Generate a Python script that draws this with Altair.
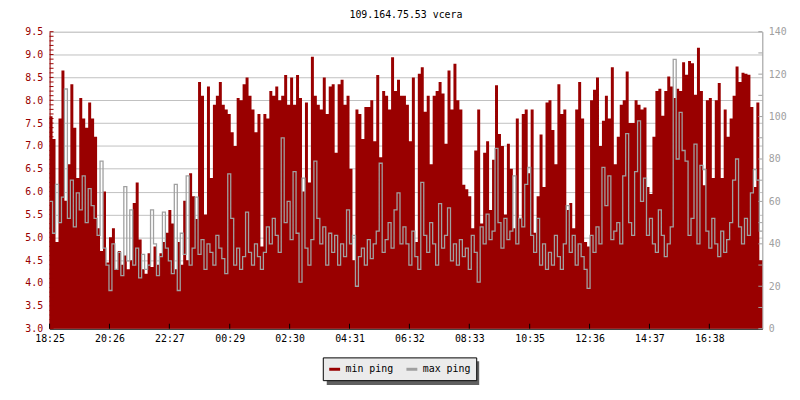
import altair as alt
import pandas as pd

# ---------------- data ----------------
# min ping (left axis, ms) - one value every 6 minutes, 240 samples over 24 h
min_ping = [
    7.65, 7.15, 4.9, 7.6, 8.65, 5.8, 6.6, 8.35, 7.4, 6.3, 8.05, 7.6, 7.4, 7.95, 7.6, 7.2, 5.2, 4.7, 6.0, 4.45,
    5.0, 5.2, 4.3, 4.7, 4.4, 4.6, 4.3, 4.5, 5.75, 6.2, 4.95, 4.3, 4.2, 4.65, 4.35, 4.8, 4.4, 4.65, 4.9, 5.1,
    5.6, 5.3, 4.3, 4.9, 4.4, 5.8, 4.5, 6.4, 5.9, 5.4, 8.4, 8.1, 5.5, 8.3, 6.3, 7.9, 8.1, 8.4, 7.9, 7.8,
    7.7, 7.3, 7.0, 8.05, 8.0, 8.35, 8.5, 8.1, 7.8, 7.3, 7.7, 4.8, 7.7, 7.6, 8.2, 8.1, 8.3, 8.0, 8.1, 8.55,
    7.9, 8.5, 7.9, 8.55, 8.05, 6.0, 7.95, 6.2, 8.95, 8.1, 7.9, 7.8, 8.5, 7.7, 8.3, 8.35, 6.85, 8.35, 8.45, 7.9,
    8.1, 6.5, 4.5, 7.8, 7.7, 7.15, 7.85, 7.85, 8.0, 7.1, 8.55, 6.75, 8.2, 8.1, 7.8, 8.94, 8.2, 8.45, 8.1, 8.1,
    7.9, 7.1, 8.5, 4.9, 8.58, 8.72, 7.75, 8.1, 6.6, 8.1, 8.2, 8.4, 8.15, 7.05, 8.65, 7.8, 8.8, 8.0, 7.8, 6.15,
    6.05, 5.9, 5.2, 6.9, 7.8, 5.3, 6.85, 7.1, 5.6, 6.7, 8.33, 7.26, 7.0, 5.5, 7.05, 6.5, 5.2, 7.6, 5.4, 7.7,
    7.8, 6.4, 7.8, 5.1, 5.9, 7.25, 6.1, 7.95, 8.0, 7.35, 6.6, 8.35, 7.7, 7.8, 5.6, 5.75, 5.2, 7.8, 8.4, 7.6,
    4.9, 4.8, 8.0, 8.23, 8.5, 7.0, 7.55, 8.1, 7.6, 8.72, 6.6, 7.2, 7.9, 8.0, 8.63, 7.5, 7.5, 8.0, 7.9, 7.8,
    7.84, 6.1, 5.95, 7.2, 8.2, 8.25, 7.66, 8.2, 8.52, 8.3, 8.05, 8.25, 8.2, 8.83, 8.56, 8.86, 8.81, 8.12, 9.15, 8.2,
    6.14, 8.0, 8.05, 6.3, 8.0, 8.38, 6.3, 7.8, 7.2, 7.6, 8.1, 8.74, 8.4, 8.6, 8.58, 8.56, 7.85, 6.1, 7.95, 4.5,
]

# max ping (right axis, ms)
max_ping = [
    60, 45, 68, 50, 62, 113, 52, 70, 48, 64, 56, 72, 50, 66, 58, 52, 44, 79, 38, 30,
    18, 40, 28, 36, 25, 67, 32, 56, 30, 38, 24, 35, 28, 30, 56, 40, 25, 34, 55, 38,
    32, 26, 68, 18, 45, 35, 72, 30, 38, 62, 35, 42, 28, 40, 36, 30, 44, 38, 33, 26,
    73, 52, 30, 38, 28, 34, 55, 36, 30, 40, 34, 28, 36, 48, 40, 52, 44, 36, 90, 50,
    60, 42, 74, 45, 22, 71, 38, 30, 42, 79, 52, 40, 48, 30, 45, 36, 44, 30, 40, 34,
    56, 40, 44, 20, 34, 38, 30, 42, 33, 40, 46, 78, 36, 42, 50, 38, 56, 64, 40, 48,
    40, 30, 46, 34, 28, 69, 44, 36, 50, 40, 30, 59, 38, 44, 57, 32, 40, 30, 42, 34,
    38, 28, 44, 36, 22, 48, 40, 54, 42, 46, 85, 50, 38, 52, 42, 46, 72, 40, 52, 48,
    68, 76, 44, 36, 52, 30, 40, 28, 36, 30, 44, 34, 28, 40, 58, 36, 44, 30, 40, 34,
    28, 19, 44, 36, 48, 40, 76, 58, 72, 42, 46, 50, 40, 72, 92, 50, 44, 74, 98, 60,
    71, 44, 52, 40, 36, 56, 44, 34, 40, 48, 127, 80, 102, 84, 79, 44, 52, 87, 40, 77,
    75, 46, 38, 52, 40, 34, 46, 36, 42, 50, 70, 80, 48, 40, 52, 44, 64, 75, 70, 46,
]

sample_minutes = 6          # one sample every 6 minutes
span_minutes = 1440         # 24 hours shown

tick_minutes = [0, 121, 242, 364, 485, 606, 727, 848, 970, 1091, 1212, 1333]
tick_labels = ["18:25", "20:26", "22:27", "00:29", "02:30", "04:31",
               "06:32", "08:33", "10:35", "12:36", "14:37", "16:38"]

left_labels = [3.0, 3.5, 4.0, 4.5, 5.0, 5.5, 6.0, 6.5, 7.0, 7.5, 8.0, 8.5, 9.0, 9.5]
right_labels = [0, 20, 40, 60, 80, 100, 120, 140]
series_names = ["min ping", "max ping"]
title_text = "109.164.75.53 vcera"

# ---------------- style ----------------
RED = "#990000"
GRAY = "#a0a0a0"
FONT = "DejaVu Sans Mono"

# ---------------- tables ----------------
n = len(min_ping)
df = pd.DataFrame({
    "m": [i * sample_minutes for i in range(n)] + [span_minutes],
    "min": min_ping + [min_ping[-1]],
    "max": max_ping + [max_ping[-1]],
})
left_minor = pd.DataFrame({"min": [round(3.0 + i * 0.1, 1) for i in range(66)]})
right_minor = pd.DataFrame({"max": [i * 10 for i in range(15)]})
bottom_ticks = pd.DataFrame({"m": tick_minutes})
one_row = pd.DataFrame({"k": [0]})

label_expr = " : ".join(f"datum.value == {m} ? '{l}'" for m, l in zip(tick_minutes, tick_labels)) + " : ''"

x_enc = alt.X(
    "m:Q",
    scale=alt.Scale(domain=[0, span_minutes], nice=False, zero=False),
    axis=alt.Axis(values=tick_minutes, labelExpr=label_expr, ticks=False, grid=False,
                  domainColor="black", labelColor="black", labelFont=FONT, labelFontSize=10,
                  labelPadding=5, labelFlush=False, labelOverlap=False, title=None),
)
y_left = alt.Y(
    "min:Q",
    scale=alt.Scale(domain=[3.0, 9.5], nice=False, zero=False),
    axis=alt.Axis(orient="left", values=left_labels, format=".1f", ticks=False, grid=True,
                  gridColor="#c0c0c0", gridWidth=1, domainColor=RED, labelColor=RED,
                  labelFont=FONT, labelFontSize=10, labelPadding=7, title=None),
)
y_right = alt.Y(
    "max:Q",
    scale=alt.Scale(domain=[0, 140], nice=False),
    axis=alt.Axis(orient="right", values=right_labels, ticks=False, grid=False,
                  domainColor=GRAY, labelColor=GRAY, labelFont=FONT, labelFontSize=10,
                  labelPadding=6, title=None),
)

red_area = alt.Chart(df).mark_area(interpolate="step-after", color=RED, opacity=1).encode(
    x=x_enc, y=y_left, y2=alt.datum(3.0)
)
left_ticks = alt.Chart(left_minor).mark_rule(color=RED, strokeWidth=1).encode(
    y=y_left, x=alt.value(0), x2=alt.value(4)
)
x_ticks = alt.Chart(bottom_ticks).mark_rule(color="black", strokeWidth=1).encode(
    x=x_enc, y=alt.value(300), y2=alt.value(295)
)
# drop shadow behind the legend box
legend_shadow = alt.Chart(one_row).mark_rect(color="#606060", clip=False).encode(
    x=alt.value(280), x2=alt.value(434), y=alt.value(333), y2=alt.value(357)
)

gray_line = alt.Chart(df).transform_calculate(series="'max ping'").mark_line(
    interpolate="step-after", strokeWidth=1.3
).encode(
    x=x_enc,
    y=y_right,
    color=alt.Color(
        "series:N",
        scale=alt.Scale(domain=series_names, range=[RED, GRAY]),
        legend=alt.Legend(orient="none", legendX=276, legendY=329, direction="horizontal",
                          title=None, fillColor="#ebebeb", strokeColor="black", padding=5,
                          symbolType="stroke", symbolStrokeWidth=3, symbolSize=121,
                          labelFont=FONT, labelFontSize=10, labelColor="black",
                          columnPadding=6, labelOffset=4),
    ),
)
right_ticks = alt.Chart(right_minor).mark_rule(color=GRAY, strokeWidth=1).encode(
    y=y_right, x=alt.value(716), x2=alt.value(720)
)

chart = alt.layer(
    alt.layer(red_area, left_ticks, x_ticks, legend_shadow),
    alt.layer(gray_line, right_ticks),
).resolve_scale(y="independent").properties(
    width=720,
    height=300,
    title=alt.TitleParams(title_text, font=FONT, fontSize=10, fontWeight="normal",
                          color="black", anchor="middle", offset=7),
    padding={"left": 42, "top": 22, "right": 30, "bottom": 62},
    autosize=alt.AutoSizeParams(type="none"),
).configure_view(stroke=None).configure(background="white")

chart.save("out.html", embed_options={"renderer": "svg", "actions": False})
